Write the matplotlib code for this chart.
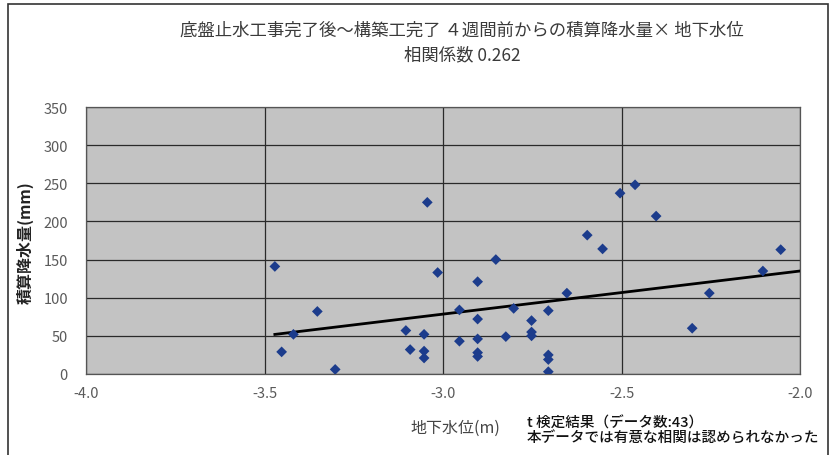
import numpy as np
import matplotlib
matplotlib.use("Agg")
import matplotlib.pyplot as plt
from matplotlib.patches import Rectangle

plt.rcParams['font.family'] = ['Noto Sans CJK JP', 'DejaVu Sans']

# groundwater level (m) vs. rainfall accumulated over the previous 4 weeks (mm)
water_level = [-3.471, -3.452, -3.419, -3.352, -3.302,
               -3.104, -3.092, -3.053, -3.053, -3.053, -3.044, -3.015,
               -2.954, -2.954,
               -2.903, -2.903, -2.903, -2.903, -2.903,
               -2.852, -2.824, -2.802,
               -2.752, -2.752, -2.752,
               -2.705, -2.705, -2.705, -2.705,
               -2.653, -2.596, -2.553, -2.504, -2.462, -2.403,
               -2.302, -2.254, -2.104, -2.054]
rainfall = [141, 29, 52, 82, 6,
            57, 32, 52, 30, 21, 225, 133,
            84, 43,
            121, 72, 46, 28, 23,
            150, 49, 86,
            70, 55, 50,
            83, 25, 19, 3,
            106, 182, 164, 237, 248, 207,
            60, 106, 135, 163]

# linear trend line (rainfall = slope * level + intercept)
trend_slope = 56.5
trend_intercept = 248.0

title = '底盤止水工事完了後～構築工完了 ４週間前からの積算降水量× 地下水位\n相関係数 0.262'
x_label = '地下水位(m)'
y_label = '積算降水量(mm)'
note = 't 検定結果（データ数:43）\n本データでは有意な相関は認められなかった'
x_ticks = [-4.0, -3.5, -3.0, -2.5, -2.0]
y_ticks = [0, 50, 100, 150, 200, 250, 300, 350]

x = np.array(water_level)
y = np.array(rainfall)

fig = plt.figure(figsize=(8.31, 4.56), dpi=100)
fig.patch.set_facecolor('white')

# outer chart frame
fig.patches.append(Rectangle((8 / 831, -0.05), 820 / 831, 1.05 - 5 / 456,
                             transform=fig.transFigure, fill=False,
                             edgecolor='#333333', linewidth=1.2))

ax = fig.add_axes([86 / 831, 81 / 456, 714 / 831, 267 / 456])
ax.set_facecolor('#c3c3c3')
ax.set_xlim(-4.0, -2.0)
ax.set_ylim(0, 350)
ax.set_xticks(x_ticks)
ax.set_yticks(y_ticks)
ax.set_xticklabels(['%.1f' % t for t in x_ticks])
ax.grid(True, color='#2a2a2a', linewidth=0.9)
ax.set_axisbelow(True)
for s in ax.spines.values():
    s.set_color('#555555')
    s.set_linewidth(0.9)
ax.tick_params(length=0, labelsize=10.5, colors='#5a5a5a')
ax.tick_params(axis='y', pad=13)
ax.tick_params(axis='x', pad=9)

xs = np.array([x.min(), -2.0])
ax.plot(xs, trend_slope * xs + trend_intercept, color='black', linewidth=2, zorder=3)
ax.scatter(x, y, marker='D', s=30, color='#1c3c8c', edgecolors='none', zorder=4)

fig.text(462 / 831, 1 - 43 / 456, title, ha='center', va='center',
         fontsize=12.5, color='#3a3a3a', linespacing=1.45)
fig.text(25 / 831, 1 - 243 / 456, y_label, rotation=90, ha='center', va='center',
         fontsize=11.5, fontweight='bold', color='#222222')
fig.text(455 / 831, 1 - 428 / 456, x_label, ha='center', va='center',
         fontsize=11.5, color='#444444')
fig.text(527 / 831, 1 - 431 / 456, note, ha='left', va='center',
         fontsize=10.5, fontweight='medium', color='#111111', linespacing=1.15)

fig.savefig('out.png', dpi=100)
